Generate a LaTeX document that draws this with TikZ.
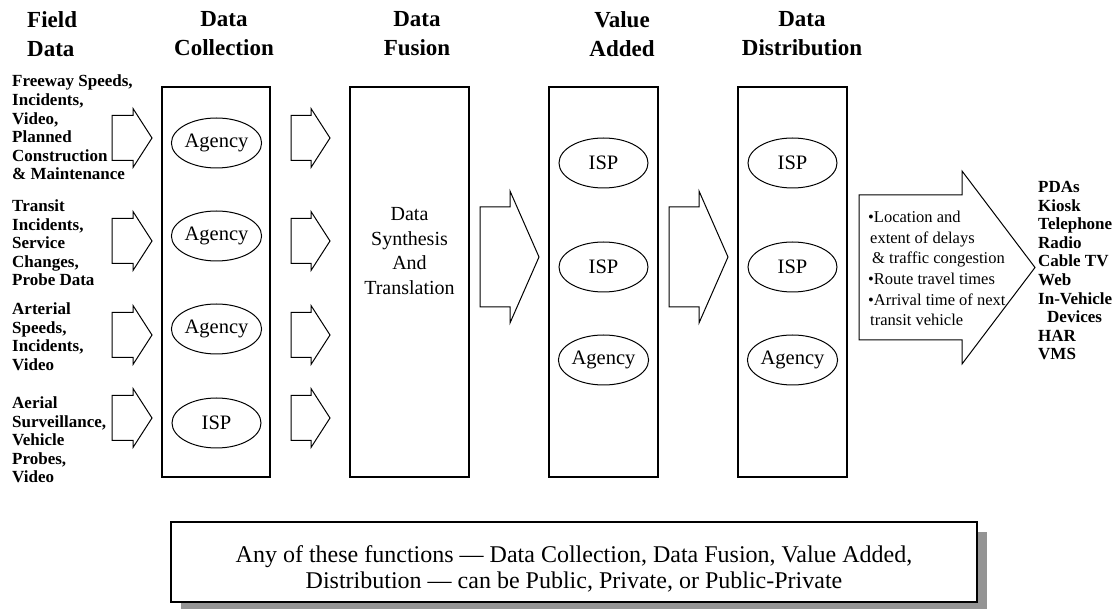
\documentclass[tikz,border=0pt]{standalone}
\usepackage{fontspec}
\setmainfont{Liberation Serif}
\usetikzlibrary{shapes.geometric,shadows,positioning}

% fat arrow: start x, head x, tip x, centre y, half body, half head
\newcommand{\blockarrow}[6]{%
  \draw[arrowline] (#1,#4-#5) -- (#2,#4-#5) -- (#2,#4-#6) -- (#3,#4)
    -- (#2,#4+#6) -- (#2,#4+#5) -- (#1,#4+#5) -- cycle;}

\begin{document}
\begin{tikzpicture}[x=1pt,y=-1pt,
        every node/.style={inner sep=0},
        stage/.style={draw,line width=1.1pt,minimum height=390pt},
        role/.style={ellipse,draw,line width=1pt,minimum width=89pt,minimum height=50pt,font=\fontsize{20.5}{24}\selectfont},
        head/.style={anchor=north,align=center,font=\fontsize{23}{29}\selectfont\bfseries},
        source/.style={anchor=north west,align=left,font=\fontsize{17}{18.6}\selectfont\bfseries},
        arrowline/.style={draw,line width=1pt,line join=miter},
        note/.style={draw,fill=white,line width=1.2pt,minimum width=806pt,minimum height=80pt,
          drop shadow={shadow xshift=10pt,shadow yshift=-10pt,opacity=1,fill=black!42}},
        ]
\useasboundingbox (0,0) rectangle (1120,609);

% column headings
\node [head, anchor=north west, align=left] (hfield) at (27,11.5) {Field\\Data};
\node [head] (hcoll) at (224,11.5) {Data\\Collection};
\node [head] (hfusion) at (417,11.5) {Data\\Fusion};
\node [head] (hvalue) at (622,11.5) {Value\\Added};
\node [head] (hdist) at (802,11.5) {Data\\Distribution};

% stage boxes
\node [stage, minimum width=108pt] (coll) at (216,282) {};
\node [stage, minimum width=119pt] (fusion) at (409.5,282) {};
\node [stage, minimum width=109pt] (value) at (603.5,282) {};
\node [stage, minimum width=109pt] (dist) at (792.5,282) {};

% field data sources
\node [source] (freeway) at (12,75) {Freeway Speeds,\\Incidents,\\Video,\\Planned\\Construction\\\& Maintenance};
\node [source] (transit) at (12,199.5) {Transit\\Incidents,\\Service\\Changes,\\Probe Data};
\node [source] (arterial) at (12,302.5) {Arterial\\Speeds,\\Incidents,\\Video};
\node [source] (aerial) at (12,396.5) {Aerial\\Surveillance,\\Vehicle\\Probes,\\Video};

% who does each stage
\foreach \y/\who [count=\i] in {143/Agency,236/Agency,329/Agency,423/ISP}
    \node [role] (coll\i) at (216.5,\y) {\who};
\foreach \y/\who [count=\i] in {163/ISP,267/ISP,360/Agency} {
    \node [role] (value\i) at (603.5,\y) {\who};
    \node [role] (dist\i) at (792.5,\y) {\who};
}

\node [align=center, font=\fontsize{20}{24.5}\selectfont] (synth) at (409.5,251) {Data\\Synthesis\\And\\Translation};

% fat arrows
\foreach \y in {138,241,335,418} {
    \blockarrow{112}{133}{152}{\y}{22.5}{29.5}
    \blockarrow{291}{311}{330}{\y}{22.5}{29.5}
}
\blockarrow{480}{510}{539}{257}{50}{66}
\blockarrow{669}{699}{728}{257}{50}{66}
\blockarrow{859}{962}{1035}{267.5}{72.5}{96.5}

\node [anchor=north west, align=left, font=\fontsize{16.5}{20.6}\selectfont] (info) at (868,211)
    {•Location and\\\hspace*{2pt}extent of delays\\\hspace*{4pt}\& traffic congestion\\•Route travel times\\•Arrival time of next\\\hspace*{2pt}transit vehicle};

\node [source] (devices) at (1038,181) {PDAs\\Kiosk\\Telephone\\Radio\\Cable TV\\Web\\In-Vehicle\\\hspace*{9pt}Devices\\HAR\\VMS};

% footnote box
\node [note] (note) at (574,562) {};
\node [align=center, font=\fontsize{24}{26}\selectfont] (notetext) at ([yshift=-7pt]note.center)
    {Any of these functions — Data Collection, Data Fusion, Value Added,\\Distribution — can be Public, Private, or Public-Private};

\end{tikzpicture}
\end{document}
